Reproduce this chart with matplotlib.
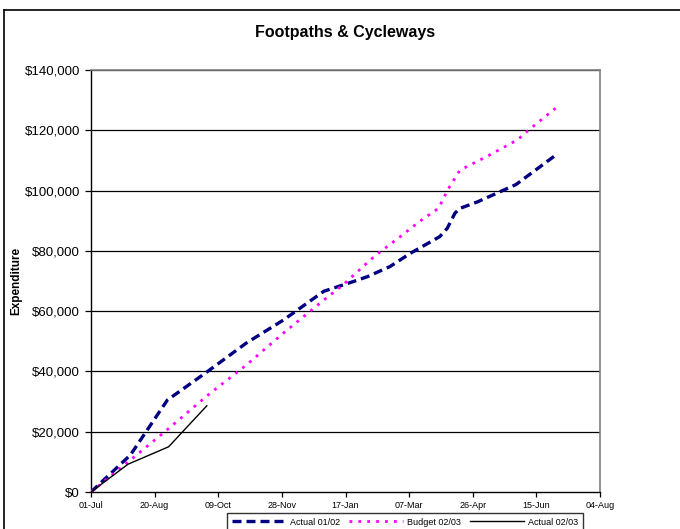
import matplotlib
matplotlib.use("Agg")
import matplotlib.pyplot as plt
from matplotlib.lines import Line2D

plt.rcParams['font.family'] = ['Liberation Sans', 'DejaVu Sans']

# ---- data (days since 01-Jul, cumulative expenditure $) ----
actual_0102_days = [0, 31, 60, 91, 122, 151, 183, 206, 217, 235, 251, 274, 280, 286, 290, 304, 334, 365]
actual_0102_vals = [0, 12300, 30500, 39800, 49400, 57000, 66600, 69800, 71400, 74800, 79200, 84700,
                    87500, 92500, 94100, 96300, 102000, 111700]

budget_0203_days = [0, 31, 60, 92, 122, 151, 183, 198, 223, 243, 258, 273, 281, 290, 311, 335, 344, 365]
budget_0203_vals = [0, 10600, 20700, 32200, 42100, 52650, 63700, 68700, 78300, 84700, 89700, 94100,
                    100700, 106800, 111300, 116800, 120100, 127300]

actual_0203_days = [0, 29, 61, 91]
actual_0203_vals = [0, 9200, 15000, 28600]

x_tick_days = [0, 50, 100, 150, 200, 250, 300, 350, 400]
x_tick_labels = ['01-Jul', '20-Aug', '09-Oct', '28-Nov', '17-Jan', '07-Mar', '26-Apr', '15-Jun', '04-Aug']
y_ticks = [0, 20000, 40000, 60000, 80000, 100000, 120000, 140000]
y_tick_labels = ['$0', '$20,000', '$40,000', '$60,000', '$80,000', '$100,000', '$120,000', '$140,000']

title = 'Footpaths & Cycleways'
series_names = ['Actual 01/02', 'Budget 02/03', 'Actual 02/03']

W, H = 680, 529
fig = plt.figure(figsize=(W / 100, H / 100), dpi=100)
ax = fig.add_axes([91 / W, 1 - 492 / H, (600 - 91) / W, (492 - 70) / H])

# grid
for yv in y_ticks[1:]:
    ax.axhline(yv, color='black', lw=0.9, zorder=1)

l1, = ax.plot(actual_0102_days, actual_0102_vals, color='#000080', lw=2.4,
              linestyle=(0, (2.7, 1.5)), solid_capstyle='butt', dash_capstyle='butt', zorder=3,
              label=series_names[0])
l2, = ax.plot(budget_0203_days, budget_0203_vals, color='#FF00FF', lw=2.0,
              linestyle=(0, (1.0, 2.2)), dash_capstyle='butt', zorder=3, label=series_names[1])
l3, = ax.plot(actual_0203_days, actual_0203_vals, color='black', lw=1.0, zorder=4,
              label=series_names[2])

ax.set_xlim(0, 400)
ax.set_ylim(0, 140000)
ax.set_xticks(x_tick_days)
ax.set_xticklabels(x_tick_labels, fontsize=6.5)
ax.set_yticks(y_ticks)
ax.set_yticklabels(y_tick_labels, fontsize=9.5)
ax.tick_params(axis='y', direction='out', length=4, width=0.9, pad=4)
ax.tick_params(axis='x', direction='out', length=3.5, width=0.9, pad=3)

for side in ['left', 'bottom']:
    ax.spines[side].set_color('black')
    ax.spines[side].set_linewidth(1.0)
for side in ['right', 'top']:
    ax.spines[side].set_color('#808080')
    ax.spines[side].set_linewidth(1.2)

ax.set_ylabel('Expenditure', fontsize=8.5, fontweight='bold')
ax.yaxis.set_label_coords(-(91 - 22) / (600 - 91), 0.5)

fig.text(345 / W, 1 - 33 / H, title, ha='center', va='center', fontsize=11.5, fontweight='bold')

leg = fig.legend(handles=[l1, l2, l3], loc='upper left', bbox_to_anchor=(227 / W, 1 - 513 / H),
                 ncol=3, fontsize=6.5, frameon=True, fancybox=False, edgecolor='black',
                 handlelength=6.0, handletextpad=0.45, columnspacing=1.0, borderpad=0.5,
                 borderaxespad=0)
leg.get_frame().set_linewidth(1.0)

# outer chart frame (clipped at right/bottom)
fig.add_artist(Line2D([4 / W, 1.0], [1 - 10 / H, 1 - 10 / H], color='black', lw=1.2,
                      transform=fig.transFigure))
fig.add_artist(Line2D([4 / W, 4 / W], [0, 1 - 10 / H], color='black', lw=1.2,
                      transform=fig.transFigure))

fig.savefig('out.png', dpi=100)
